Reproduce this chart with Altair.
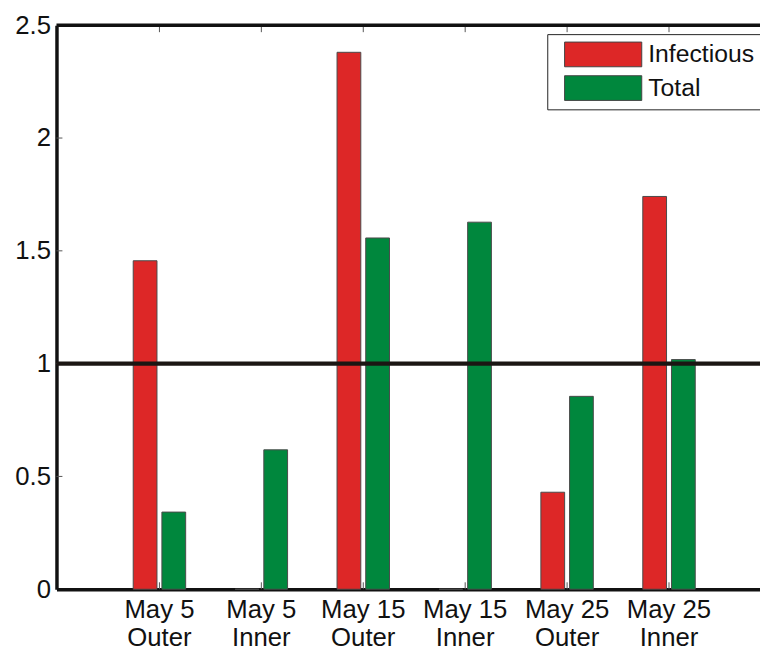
import altair as alt
import pandas as pd

dates = ["May 5", "May 5", "May 15", "May 15", "May 25", "May 25"]
locs = ["Outer", "Inner", "Outer", "Inner", "Outer", "Inner"]
infectious = [1.456, 0.0, 2.38, 0.0, 0.43, 1.741]
total = [0.342, 0.618, 1.557, 1.627, 0.855, 1.018]
series = ["Infectious", "Total"]
colors = ["#dd2727", "#00873d"]
y_ticks = [0, 0.5, 1, 1.5, 2, 2.5]

cats = [f"{d}|{l}" for d, l in zip(dates, locs)]
rows = []
for c, a, b in zip(cats, infectious, total):
    rows.append({"cat": c, "series": "Infectious", "value": a})
    rows.append({"cat": c, "series": "Total", "value": b})
df = pd.DataFrame(rows)

FONT = "Liberation Sans"
FS = 26

xscale = alt.Scale(domain=cats, paddingInner=0, paddingOuter=0.4515, align=0.565)
yscale = alt.Scale(domain=[0, 2.5], nice=False, zero=True)

bars = alt.Chart(df).mark_bar(stroke="#4a4a4a", strokeWidth=1).encode(
    x=alt.X("cat:N", sort=cats, scale=xscale, title=None,
            axis=alt.Axis(labelExpr="split(datum.label, '|')", labelAngle=0,
                          labelFontSize=FS, labelFont=FONT, labelColor="#111",
                          labelLineHeight=28, labelPadding=8, ticks=False,
                          domainColor="#111", domainWidth=3.5)),
    xOffset=alt.XOffset("series:N", sort=series,
                        scale=alt.Scale(paddingInner=0.172, paddingOuter=0.862)),
    y=alt.Y("value:Q", scale=yscale, title=None,
            axis=alt.Axis(values=y_ticks, format="~g", labelFontSize=FS, labelFont=FONT,
                          labelColor="#111", labelPadding=6, ticks=False, grid=False,
                          domainColor="#111", domainWidth=3.5)),
    color=alt.Color("series:N", sort=series,
                    scale=alt.Scale(domain=series, range=colors),
                    legend=alt.Legend(title=None, orient="none", legendX=496, legendY=9,
                                      strokeColor="#222", fillColor="white", padding=7,
                                      symbolType="M-1,-0.96L5,-0.96L5,0.96L-1,0.96Z",
                                      symbolSize=676, symbolStrokeColor="#444",
                                      symbolStrokeWidth=1, symbolOffset=10,
                                      labelFontSize=25, labelFont=FONT, labelColor="#111",
                                      labelOffset=58, rowPadding=5)),
)

ref_df = pd.DataFrame({"v": [1.0]})
ref_line = alt.Chart(ref_df).mark_rule(color="#1b1613", strokeWidth=4.5).encode(
    y=alt.Y("v:Q", scale=yscale)
)

top_df = pd.DataFrame({"v": [2.5]})
top_line = alt.Chart(top_df).mark_rule(color="#111", strokeWidth=3.5).encode(
    y=alt.Y("v:Q", scale=yscale)
)

ytick_df = pd.DataFrame({"v": y_ticks[1:-1]})
yticks = alt.Chart(ytick_df).mark_rule(color="#555", strokeWidth=1).encode(
    y=alt.Y("v:Q", scale=yscale), x=alt.value(0), x2=alt.value(6)
)

xtick_df = pd.DataFrame({"cat": cats})
xticks_b = alt.Chart(xtick_df).mark_rule(color="#555", strokeWidth=1).encode(
    x=alt.X("cat:N", sort=cats, scale=xscale), y=alt.value(570), y2=alt.value(563)
)
xticks_t = alt.Chart(xtick_df).mark_rule(color="#555", strokeWidth=1).encode(
    x=alt.X("cat:N", sort=cats, scale=xscale), y=alt.value(0), y2=alt.value(7)
)

chart = alt.layer(bars, yticks, xticks_b, xticks_t, ref_line, top_line).properties(
    width=711, height=570,
    autosize=alt.AutoSizeParams(type="none"),
    padding={"left": 49, "top": 14, "right": 0, "bottom": 59},
).configure_view(strokeWidth=0).configure(background="white")

chart.save("out.html", embed_options={"renderer": "svg", "actions": False})
